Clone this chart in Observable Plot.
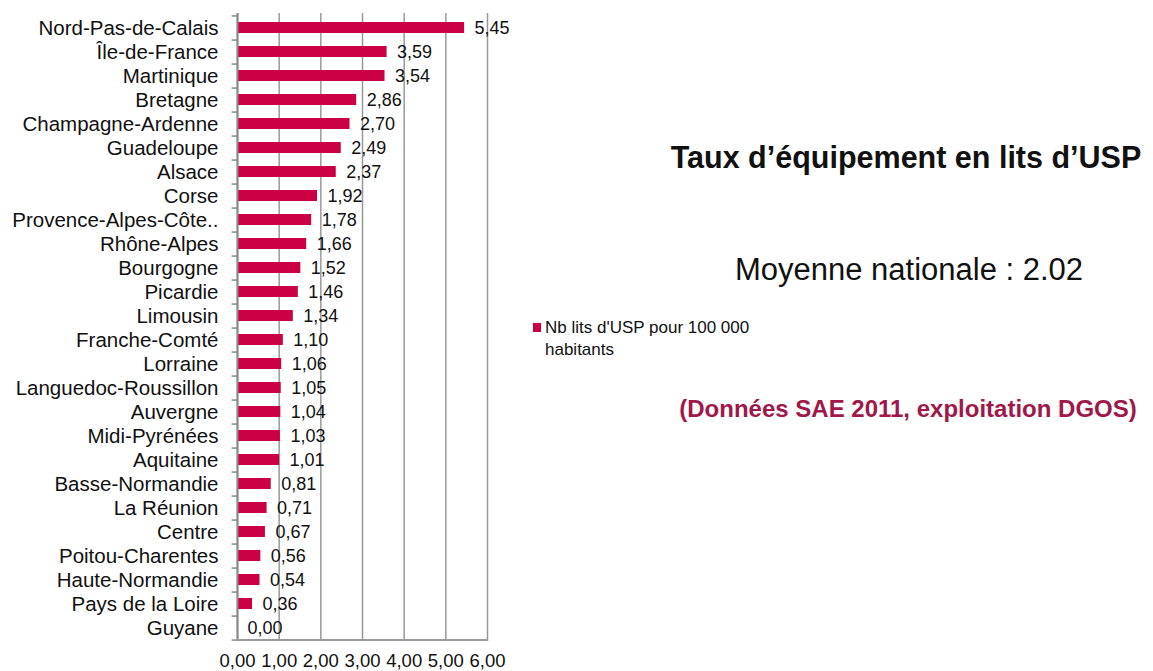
<!DOCTYPE html>
<html>
<head>
<meta charset="utf-8">
<script src="https://cdn.jsdelivr.net/npm/d3@7"></script>
<script src="https://cdn.jsdelivr.net/npm/@observablehq/plot@0.6"></script>
<style>
  html, body { margin: 0; padding: 0; background: #fff; }
  #wrap { position: relative; width: 1153px; height: 671px; font-family: "Liberation Sans", Arial, sans-serif; color: #111; }
  .abs { position: absolute; white-space: nowrap; }
</style>
</head>
<body>
<div id="wrap">
  <div id="chart"></div>
  <div class="abs" id="title" style="left:906px; top:157px; transform:translate(-50%,-50%); font-size:30.5px; font-weight:bold;">Taux d’équipement en lits d’USP</div>
  <div class="abs" id="moy" style="left:909px; top:270px; transform:translate(-50%,-50%); font-size:31px;">Moyenne nationale : 2.02</div>
  <div class="abs" id="legend" style="left:533px; top:317px; font-size:17px; line-height:22px;">
    <span style="display:inline-block;width:8px;height:9px;background:#CC0044;margin-right:4px;vertical-align:1px;"></span>Nb lits d'USP pour 100 000<br><span style="margin-left:12px;">habitants</span>
  </div>
  <div class="abs" id="src" style="left:908px; top:409px; transform:translate(-50%,-50%); font-size:24px; font-weight:bold; color:#A0174A;">(Données SAE 2011, exploitation DGOS)</div>
</div>
<script>
const regions = ["Nord-Pas-de-Calais","Île-de-France","Martinique","Bretagne","Champagne-Ardenne","Guadeloupe","Alsace","Corse","Provence-Alpes-Côte..","Rhône-Alpes","Bourgogne","Picardie","Limousin","Franche-Comté","Lorraine","Languedoc-Roussillon","Auvergne","Midi-Pyrénées","Aquitaine","Basse-Normandie","La Réunion","Centre","Poitou-Charentes","Haute-Normandie","Pays de la Loire","Guyane"];
const values = [5.45,3.59,3.54,2.86,2.70,2.49,2.37,1.92,1.78,1.66,1.52,1.46,1.34,1.10,1.06,1.05,1.04,1.03,1.01,0.81,0.71,0.67,0.56,0.54,0.36,0.00];
const xTicks = [0,1,2,3,4,5,6];

const data = regions.map((r, i) => ({region: r, value: values[i]}));
const fmt = d => d.toFixed(2).replace(".", ",");

const H = 671, mTop = 13, mBottom = 30;
const step = (H - mTop - mBottom) / regions.length;

const chart = Plot.plot({
  width: 1153,
  height: H,
  marginLeft: 237,
  marginRight: 666,
  marginTop: mTop,
  marginBottom: mBottom,
  style: {fontFamily: "'Liberation Sans', Arial, sans-serif", fontSize: "18px", color: "#111", background: "white"},
  x: {domain: [0, 6], ticks: xTicks, tickFormat: fmt, label: null, tickSize: 0, tickPadding: 12},
  y: {domain: regions, paddingInner: 0.55, paddingOuter: 0.275, label: null, tickSize: 0, tickPadding: 19},
  marks: [
    Plot.gridX(xTicks, {stroke: "#999", strokeOpacity: 1, strokeWidth: 1.5}),
    Plot.ruleY(regions, {y: d => d, x1: -0.13, x2: 0, dy: step / 2, stroke: "#888", strokeWidth: 1.5}),
    Plot.ruleY([regions[0]], {y: d => d, x1: -0.13, x2: 0, dy: -step / 2, stroke: "#888", strokeWidth: 1.5}),
    Plot.barX(data, {x: "value", y: "region", fill: "#CC0044"}),
    Plot.ruleX([0], {stroke: "#888", strokeWidth: 2}),
    Plot.ruleY([regions[regions.length - 1]], {y: d => d, x1: 0, x2: 6, dy: step / 2, stroke: "#999", strokeWidth: 2}),
    Plot.axisY({tickSize: 0, tickPadding: 19, fontSize: 20.5, label: null}),
    Plot.axisX({ticks: xTicks, tickFormat: fmt, tickSize: 0, tickPadding: 12, fontSize: 18.5, label: null}),
    Plot.text(data, {x: "value", y: "region", text: d => fmt(d.value), dx: 10, textAnchor: "start", fontSize: 18, fill: "#111"})
  ]
});
document.getElementById("chart").appendChild(chart);
</script>
</body>
</html>
